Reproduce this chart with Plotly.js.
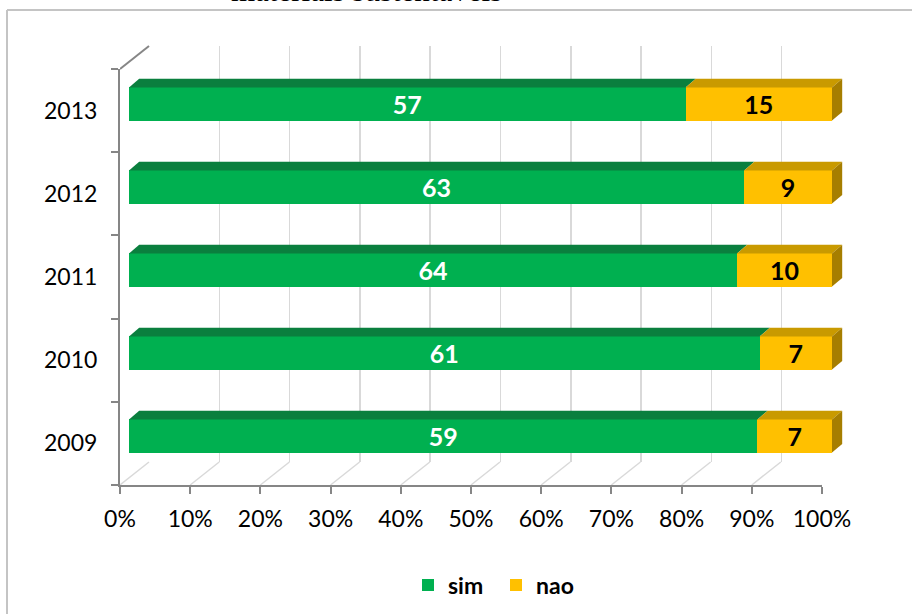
<!DOCTYPE html>
<html>
<head>
<meta charset="utf-8">
<script src="https://cdn.plot.ly/plotly-3.0.1.min.js"></script>
<style>html,body{margin:0;padding:0;background:#fff}#chart{width:912px;height:614px}</style>
</head>
<body>
<div id="chart"></div>
<script>
// ---- data ----
const years = ['2009', '2010', '2011', '2012', '2013'];
const sim = [59, 61, 64, 63, 57];
const nao = [7, 7, 10, 9, 15];
const tickValues = [0, 10, 20, 30, 40, 50, 60, 70, 80, 90, 100];
const titleText = 'materiais sustentáveis';

// ---- geometry (pixels -> paper) ----
const W = 912, H = 614;
const px = v => v / W;
const py = v => 1 - v / H;

const FONT = 'Lato, "Open Sans", sans-serif';
const GREEN = '#00B050', GREEN_TOP = '#0A7F3E';
const GOLD = '#FFC000', GOLD_TOP = '#C99A00', GOLD_SIDE = '#A67E00';
const AXIS = '#868686', GRID = '#d9d9d9';

const barW = 0.4;          // bar thickness in category units
const dX = 1.45;           // depth offset along x (percent units)
const dY = 0.105;          // depth offset along y (category units)
const pxPerPct = 7.03;
const extraPx = 16;        // room to the right of 100% for the side face
const xMax3 = 100 + extraPx / pxPerPct;

const ypos = years.map((_, i) => i);
const simPct = sim.map((s, i) => 100 * s / (s + nao[i]));

const traces = [];

// back-wall helper trace
traces.push({x: [0, 100], y: [0, 1], xaxis: 'x', yaxis: 'y', mode: 'markers',
  marker: {opacity: 0}, hoverinfo: 'skip', showlegend: false});

// front axes helper trace (categories)
traces.push({x: years.map(() => 0), y: years, xaxis: 'x2', yaxis: 'y2', mode: 'markers',
  marker: {opacity: 0}, hoverinfo: 'skip', showlegend: false});

// 3D faces
function poly(xs, ys, color) {
  traces.push({x: xs, y: ys, xaxis: 'x3', yaxis: 'y3', mode: 'lines', fill: 'toself',
    fillcolor: color, line: {width: 0, color: color}, hoverinfo: 'skip', showlegend: false});
}
ypos.forEach((y, i) => {
  const top = y + barW / 2, bot = y - barW / 2, p = simPct[i];
  poly([0, dX, p + dX, p, 0], [top, top + dY, top + dY, top, top], GREEN_TOP);
  poly([p, p + dX, 100 + dX, 100, p], [top, top + dY, top + dY, top, top], GOLD_TOP);
  poly([100, 100 + dX, 100 + dX, 100, 100], [top, top + dY, bot + dY, bot, top], GOLD_SIDE);
});

// bars
traces.push({type: 'bar', orientation: 'h', name: 'sim', x: sim, y: ypos, width: barW,
  xaxis: 'x3', yaxis: 'y3', marker: {color: GREEN, line: {width: 0}},
  text: sim.map(String), textposition: 'inside', insidetextanchor: 'middle', constraintext: 'none',
  textangle: 0, textfont: {family: FONT, size: 25, color: '#ffffff', weight: 'bold'}, hoverinfo: 'skip'});
traces.push({type: 'bar', orientation: 'h', name: 'nao', x: nao, y: ypos, width: barW,
  xaxis: 'x3', yaxis: 'y3', marker: {color: GOLD, line: {width: 0}},
  text: nao.map(String), textposition: 'inside', insidetextanchor: 'middle', constraintext: 'none',
  textangle: 0, textfont: {family: FONT, size: 25, color: '#000000', weight: 'bold'}, hoverinfo: 'skip'});

// decorative 3D connector lines
const shapes = [];
tickValues.forEach(v => {
  shapes.push({type: 'line', xref: 'x2', yref: 'paper', x0: v, x1: v + 29 / 7.02,
    y0: py(485), y1: py(462), line: {color: GRID, width: 1.5}, layer: 'below'});
});
shapes.push({type: 'line', xref: 'x2', yref: 'paper', x0: 0, x1: 29 / 7.02,
  y0: py(69), y1: py(46), line: {color: AXIS, width: 2}, layer: 'below'});
// chart frame
shapes.push({type: 'line', xref: 'paper', yref: 'paper', x0: px(7), x1: px(7), y0: py(10), y1: 0,
  line: {color: '#c4c4c4', width: 2}});
shapes.push({type: 'line', xref: 'paper', yref: 'paper', x0: px(7), x1: 1, y0: py(10), y1: py(10),
  line: {color: '#c4c4c4', width: 2}});

const layout = {
  width: W, height: H,
  margin: {l: 0, r: 0, t: 0, b: 0},
  paper_bgcolor: '#ffffff', plot_bgcolor: 'rgba(0,0,0,0)',
  barmode: 'stack', barnorm: 'percent',
  showlegend: true,
  legend: {orientation: 'h', x: px(496), xanchor: 'center', y: py(585), yanchor: 'middle',
    font: {family: FONT, size: 23, color: '#000', weight: 'bold'}, itemwidth: 30,
    entrywidth: 43, entrywidthmode: 'pixels', traceorder: 'normal'},
  xaxis: {domain: [px(149), px(852)], range: [0, 100], anchor: 'y', showgrid: true, gridcolor: GRID,
    gridwidth: 1.5, tickvals: tickValues, showticklabels: false, ticks: '', zeroline: false, showline: false},
  yaxis: {domain: [py(462), py(46)], range: [0, 1], anchor: 'x', visible: false},
  xaxis2: {domain: [px(120), px(822)], range: [0, 100], anchor: 'y2', tickvals: tickValues,
    ticktext: tickValues.map(v => v + '%'), showgrid: false, zeroline: false, showline: true,
    linecolor: AXIS, linewidth: 2, ticks: 'outside', ticklen: 7, tickwidth: 2, tickcolor: AXIS,
    ticklabelstandoff: 5, tickfont: {family: FONT, size: 23, color: '#000'}},
  yaxis2: {domain: [py(485), py(69)], type: 'category', categoryarray: years, range: [-0.5, 4.5],
    anchor: 'x2', showgrid: false, zeroline: false, showline: true, linecolor: AXIS, linewidth: 2,
    ticks: 'outside', tickson: 'boundaries', ticklen: 7, tickwidth: 2, tickcolor: AXIS,
    ticklabelstandoff: 16, tickfont: {family: FONT, size: 23, color: '#000'}},
  xaxis3: {domain: [px(129), px(832 + extraPx)], range: [0, xMax3], anchor: 'y3', visible: false, fixedrange: true},
  yaxis3: {domain: [py(477.5), py(62.5)], range: [-0.5, 4.5], anchor: 'x3', visible: false, fixedrange: true},
  shapes: shapes,
  annotations: [{text: titleText, xref: 'paper', yref: 'paper', x: px(366), y: py(10),
    xanchor: 'center', yanchor: 'bottom', showarrow: false,
    font: {family: '"Liberation Serif", "Times New Roman", serif', size: 31, color: '#000'}}]
};

Plotly.newPlot('chart', traces, layout, {displayModeBar: false, staticPlot: true});
</script>
</body>
</html>
